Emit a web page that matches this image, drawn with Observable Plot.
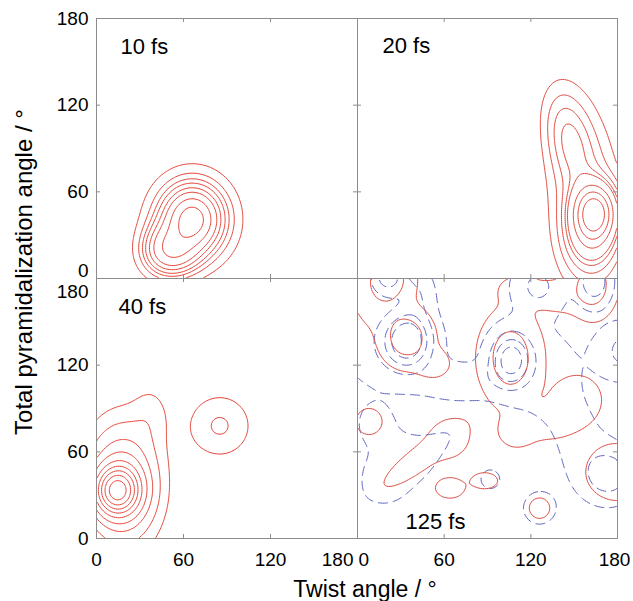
<!DOCTYPE html>
<html><head><meta charset="utf-8">
<script src="https://cdn.jsdelivr.net/npm/d3@7"></script>
<script src="https://cdn.jsdelivr.net/npm/@observablehq/plot@0.6"></script>
<style>
body{margin:0;background:#fff;}
#chart{position:relative;width:633px;height:601px;font-family:"Liberation Sans",Arial,Helvetica,sans-serif;color:#000;}
#chart svg{position:absolute;left:0;top:0;}
.ttl{position:absolute;white-space:nowrap;line-height:1;}
</style></head><body><div id="chart"></div>
<script>
// ---- values ----
const timeLabels = ["10 fs", "20 fs", "40 fs", "125 fs"];
const tickValues = [0, 60, 120, 180];
const xTitle = "Twist angle / °";
const yTitle = "Total pyramidalization angle / °";

// Gaussian bumps of each density: [twist centre, pyramidalization centre, x spread, y spread, height, tilt°]
// Contour levels are the density at the points where each line crosses.
const bumps10 = [[66, 41, 9, 10, 0.5], [52, 20, 12, 11, 0.3], [66, 41, 20, 22, 0.45], [45, 15, 14, 14, 0.12]];
const cross10 = [[64, 79.4], [65, 72.9], [65, 69], [65, 66], [66, 62.8], [66, 59.7], [66, 55.2], [66, 49.4]];

const bumps20 = [[146, 98, 10, 22, 0.2, 12], [158, 50, 16, 45, 0.2, 5], [164, 46, 9, 12, 1.1], [162, 28, 11, 14, 0.3]];
const cross20 = [[138, 137], [144, 127], [146, 117.5], [145.5, 107], [164, 71], [164, 64.4], [164, 59.8], [164, 55.2]];

const bumps40 = [[14, 33, 10, 11, 0.6], [18, 38, 17, 28, 0.3], [38, 88, 9, 14, 0.05], [85, 78, 15.8, 15.8, 0.107]];
const levels40 = [0.05, 0.1, 0.17, 0.25, 0.35, 0.45, 0.55, 0.66, 0.78];

const bumps125red = [
  [21, 180, 10, 10, 1.0], [34, 139, 10.4, 11.4, 1.0], [106, 125, 12, 18, 1.0], [163, 176, 9, 13, 1.0],
  [15, 163, 12, 12, 0.3], [53, 121, 8, 7, 0.3],
  [8, 81, 6.4, 6.4, 0.35], [44, 56, 23.5, 6, 0.32, 37], [64, 69, 9, 9, 0.3],
  [64, 35, 7.1, 5, 0.35], [88, 40, 6.4, 3.9, 0.35], [126, 21, 5, 5, 0.35], [180, 46, 15.6, 14, 0.35],
  [110, 74, 9, 8, 0.3], [132, 80, 12, 8, 0.3], [152, 96, 12, 12, 0.35], [140, 168, 12, 8, 0.3], [112, 172, 10, 7, 0.3]
];
const levels125red = [0.13, 0.6];

const bumps125blue = [
  [21, 181, 9, 9, 0.7], [35, 137, 11, 13, 1.0], [106, 124, 10, 13, 1.0], [164, 178, 8, 11, 0.6],
  [125, 175, 12, 12, 0.45], [42, 170, 8, 12, 0.3], [186, 130, 13, 13, 0.5],
  [12, 80, 8, 9, 0.22], [30, 55, 20, 18, 0.2], [18, 38, 10, 10, 0.2], [44, 57, 26, 6, 0.15, 37],
  [92, 41, 4.5, 4.5, 0.35], [126, 21, 7.8, 7.8, 0.35], [174, 44, 13, 13, 0.55],
  [25, 130, 25, 20, 0.2], [15, 150, 20, 30, 0.15], [72, 108, 18, 9, 0.3],
  [130, 115, 22, 30, 0.2], [155, 65, 15, 22, 0.15]
];
const levels125blue = [0.13, 0.4, 0.66, 0.9];

// ---- drawing ----
const RED = "#e3463a", BLUE = "#5b63c4", FRAME = "#8c8c8c";
const W = 633, H = 601;
const colX = [[96, 357], [357, 617]], rowY = [[18, 278], [278, 538]];
const FONT = "Liberation Sans, Arial, Helvetica, sans-serif";

function field(bumps) {
  return (x, y) => {
    let s = 0;
    for (const [cx, cy, sx, sy, a, t = 0] of bumps) {
      const r = t * Math.PI / 180, c = Math.cos(r), n = Math.sin(r);
      const dx = x - cx, dy = y - cy;
      const u = dx * c + dy * n, v = -dx * n + dy * c;
      s += a * Math.exp(-(u * u / (2 * sx * sx) + v * v / (2 * sy * sy)));
    }
    return s;
  };
}
const levelsAt = (bumps, pts) => pts.map(([x, y]) => field(bumps)(x, y)).sort((a, b) => a - b);

function panel(o) {
  const [l, r] = colX[o.col], [t, b] = rowY[o.row];
  const fw = r - l, fh = b - t;
  const marks = [];
  for (const layer of o.layers) {
    marks.push(Plot.contour({
      x1: 0, y1: 0, x2: 180, y2: 180,
      value: field(layer.bumps), thresholds: layer.levels,
      fill: "none", stroke: layer.color, strokeWidth: 1,
      strokeDasharray: layer.dash, clip: true
    }));
  }
  marks.push(Plot.frame({stroke: FRAME, strokeWidth: 1}));
  marks.push(Plot.tickX(tickValues, {x: d => d, stroke: FRAME, insetTop: fh - 4}));
  marks.push(Plot.tickX(tickValues, {x: d => d, stroke: FRAME, insetBottom: fh - 4}));
  marks.push(Plot.tickY(tickValues, {y: d => d, stroke: FRAME, insetLeft: fw - 4}));
  marks.push(Plot.tickY(tickValues, {y: d => d, stroke: FRAME, insetRight: fw - 4}));
  for (const g of o.yLabels || []) {
    marks.push(Plot.text(g.values, {y: d => d, text: d => String(d), frameAnchor: "left", textAnchor: "end", dx: -8, dy: g.dy || 0, fontSize: 19}));
  }
  for (const g of o.xLabels || []) {
    marks.push(Plot.text(g.values, {x: d => d, text: d => String(d), frameAnchor: "bottom", lineAnchor: "top", textAnchor: g.anchor || "middle", dx: g.dx || 0, dy: 14, fontSize: 19}));
  }
  marks.push(Plot.text([o.label], {text: d => d, frameAnchor: o.labelAnchor, textAnchor: "start", lineAnchor: "bottom", dx: o.labelDx, dy: o.labelDy, fontSize: 22}));
  return Plot.plot({
    width: W, height: H,
    marginLeft: l, marginRight: W - r, marginTop: t, marginBottom: H - b,
    x: {domain: [0, 180], axis: null},
    y: {domain: [0, 180], axis: null},
    style: {background: "none", fontFamily: FONT, overflow: "visible"},
    marks
  });
}

const chart = document.getElementById("chart");
chart.append(panel({
  col: 0, row: 0, label: timeLabels[0], labelAnchor: "top-left", labelDx: 24, labelDy: 35,
  layers: [{bumps: bumps10, levels: levelsAt(bumps10, cross10), color: RED}],
  yLabels: [{values: tickValues.slice(1)}, {values: tickValues.slice(0, 1), dy: -8}]
}));
chart.append(panel({
  col: 1, row: 0, label: timeLabels[1], labelAnchor: "top-left", labelDx: 25, labelDy: 34,
  layers: [{bumps: bumps20, levels: levelsAt(bumps20, cross20), color: RED}]
}));
chart.append(panel({
  col: 0, row: 1, label: timeLabels[2], labelAnchor: "top-left", labelDx: 22, labelDy: 35,
  layers: [{bumps: bumps40, levels: levels40, color: RED}],
  yLabels: [{values: tickValues.slice(0, 3)}, {values: tickValues.slice(3), dy: 13}],
  xLabels: [{values: tickValues.slice(0, 3)}, {values: tickValues.slice(3), anchor: "end", dx: -4}]
}));
chart.append(panel({
  col: 1, row: 1, label: timeLabels[3], labelAnchor: "bottom-left", labelDx: 48, labelDy: -10,
  layers: [
    {bumps: bumps125blue, levels: levels125blue, color: BLUE, dash: "10,5"},
    {bumps: bumps125red, levels: levels125red, color: RED}
  ],
  xLabels: [{values: tickValues.slice(0, 1), anchor: "start", dx: 1}, {values: tickValues.slice(1, 3)}, {values: tickValues.slice(3), dx: -3}]
}));

const xt = document.createElement("div");
xt.className = "ttl"; xt.textContent = xTitle;
xt.style.cssText += "left:365px;top:578px;font-size:23px;transform:translateX(-50%);";
chart.append(xt);
const yt = document.createElement("div");
yt.className = "ttl"; yt.textContent = yTitle;
yt.style.cssText += "left:24px;top:272px;font-size:24px;transform:translate(-50%,-50%) rotate(-90deg);";
chart.append(yt);
</script></body></html>
